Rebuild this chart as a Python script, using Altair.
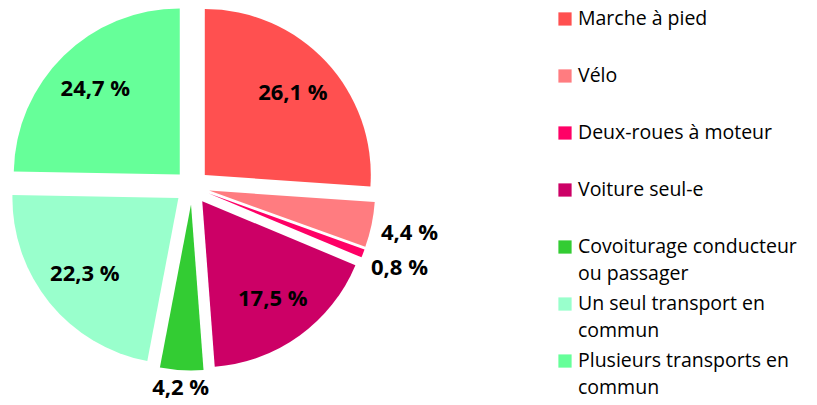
import altair as alt
import pandas as pd

modes = ["Marche à pied", "Vélo", "Deux-roues à moteur", "Voiture seul-e",
         "Covoiturage conducteur ou passager", "Un seul transport en commun",
         "Plusieurs transports en commun"]
shares = [26.1, 4.4, 0.8, 17.5, 4.2, 22.3, 24.7]
share_labels = ["26,1 %", "4,4 %", "0,8 %", "17,5 %", "4,2 %", "22,3 %", "24,7 %"]
legend_labels = ["Marche à pied", "Vélo", "Deux-roues à moteur", "Voiture seul-e",
                 "Covoiturage conducteur\nou passager", "Un seul transport en\ncommun",
                 "Plusieurs transports en\ncommun"]
colors = ["#FF5050", "#FF7C80", "#FF0066", "#CC0066", "#33CC33", "#99FFCC", "#66FF99"]

df = pd.DataFrame({"mode": modes, "share": shares, "label": share_labels,
                   "legend": legend_labels, "order": list(range(len(modes)))})

EXPLODE = 17.5
R = 166
PIE_W, PIE_H = 368, 356
FONT = "Open Sans"

color_enc = alt.Color("mode:N", scale=alt.Scale(domain=modes, range=colors), legend=None)

base = alt.Chart(df).transform_window(
    cum="sum(share)", sort=[alt.SortField("order")], frame=[None, 0]
).transform_calculate(
    start="datum.cum - datum.share",
    mid="(datum.cum - datum.share / 2) / 100 * 2 * PI",
).transform_calculate(
    cx=f"{EXPLODE} * sin(datum.mid)",
    cy=f"{EXPLODE} * cos(datum.mid)",
    lr=f"datum.share < 5 ? {R + EXPLODE + 4} + 33 * abs(sin(datum.mid)) + 12 * abs(cos(datum.mid)) : 138",
).transform_calculate(
    lx="datum.lr * sin(datum.mid)",
    ly="datum.lr * cos(datum.mid)",
)

xs = alt.Scale(domain=[-PIE_W / 2, PIE_W / 2], nice=False, zero=False)
ys = alt.Scale(domain=[-PIE_H / 2, PIE_H / 2], nice=False, zero=False)

arcs = base.mark_arc(outerRadius=R, innerRadius=0, stroke=None).encode(
    x=alt.X("cx:Q", scale=xs, axis=None, stack=False),
    y=alt.Y("cy:Q", scale=ys, axis=None, stack=False),
    theta=alt.Theta("start:Q", scale=alt.Scale(domain=[0, 100], range=[0, 6.283185307179586]), stack=False),
    theta2="cum:Q",
    color=color_enc,
)

labels = base.mark_text(font=FONT, fontWeight="bold", fontSize=22, align="center",
                        baseline="middle", color="black").encode(
    x=alt.X("lx:Q", scale=xs, axis=None, stack=False),
    y=alt.Y("ly:Q", scale=ys, axis=None, stack=False),
    text="label:N",
)

pie = alt.layer(arcs, labels).properties(width=PIE_W, height=PIE_H)

leg_y = alt.Y("mode:N", sort=modes, axis=None, scale=alt.Scale(type="point", padding=0.175))
leg_base = alt.Chart(df)
squares = leg_base.mark_square(size=175, opacity=1).encode(
    x=alt.value(7), y=leg_y, color=color_enc)
texts = leg_base.mark_text(align="left", baseline="middle", font=FONT, fontSize=19.5,
                           lineBreak="\n", lineHeight=27, color="black").encode(
    x=alt.value(20), y=leg_y, text="legend:N")
legend = alt.layer(squares, texts).properties(width=240, height=362)

chart = alt.hconcat(pie, legend, spacing=182, bounds="flush").properties(
    padding=0
).configure_view(strokeWidth=0)

chart.save("out.html", embed_options={"renderer": "svg", "actions": False})
